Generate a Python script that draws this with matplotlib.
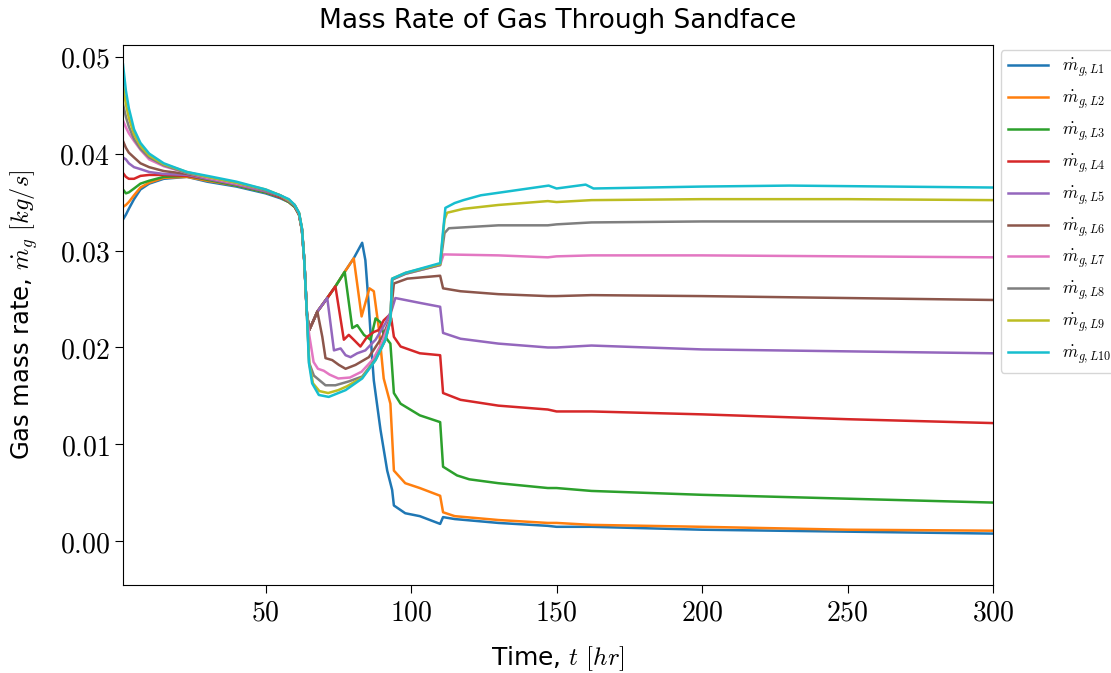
import numpy as np
import matplotlib
matplotlib.use('Agg')
import matplotlib.pyplot as plt
from matplotlib.ticker import FuncFormatter

plt.rcParams['mathtext.fontset'] = 'cm'
plt.rcParams['font.family'] = ['DejaVu Sans']

# time [hr] and gas mass rate [kg/s], one pair per layer
# early part shares one time grid
t_early = [1, 2, 3, 4.8, 7, 10, 15, 23, 30, 40, 50, 55, 58, 60, 61.5, 62.5, 63.3, 64.2]

m_early_L1 = [0.0332, 0.0337, 0.0343, 0.0353, 0.0363, 0.0369, 0.0374, 0.0376, 0.0371, 0.0366, 0.0359, 0.0354, 0.0350,
              0.0345, 0.0337, 0.0321, 0.0290, 0.0235]
m_early_L2 = [0.0345, 0.0347, 0.0350, 0.0357, 0.0365, 0.0370, 0.0375, 0.0376, 0.0372, 0.0367, 0.0360, 0.0355, 0.0350,
              0.0345, 0.0337, 0.0321, 0.0290, 0.0235]
m_early_L3 = [0.0363, 0.0359, 0.0360, 0.0364, 0.0369, 0.0372, 0.0376, 0.0377, 0.0373, 0.0367, 0.0360, 0.0355, 0.0350,
              0.0345, 0.0337, 0.0321, 0.0290, 0.0235]
m_early_L4 = [0.0380, 0.0376, 0.0374, 0.0374, 0.0377, 0.0378, 0.0378, 0.0377, 0.0374, 0.0368, 0.0361, 0.0355, 0.0351,
              0.0346, 0.0337, 0.0321, 0.0290, 0.0235]
m_early_L5 = [0.0396, 0.0394, 0.0390, 0.0386, 0.0384, 0.0381, 0.0379, 0.0378, 0.0374, 0.0368, 0.0361, 0.0356, 0.0351,
              0.0346, 0.0338, 0.0322, 0.0290, 0.0235]
m_early_L6 = [0.0413, 0.0406, 0.0401, 0.0396, 0.0390, 0.0386, 0.0382, 0.0379, 0.0375, 0.0369, 0.0362, 0.0356, 0.0352,
              0.0346, 0.0338, 0.0322, 0.0290, 0.0235]
m_early_L7 = [0.0434, 0.0427, 0.0421, 0.0413, 0.0404, 0.0394, 0.0387, 0.0380, 0.0375, 0.0369, 0.0362, 0.0357, 0.0352,
              0.0347, 0.0338, 0.0322, 0.0290, 0.0235]
m_early_L8 = [0.0451, 0.0438, 0.0428, 0.0415, 0.0405, 0.0396, 0.0388, 0.0380, 0.0376, 0.0370, 0.0362, 0.0357, 0.0352,
              0.0347, 0.0338, 0.0322, 0.0290, 0.0235]
m_early_L9 = [0.0471, 0.0451, 0.0437, 0.0420, 0.0408, 0.0398, 0.0389, 0.0381, 0.0376, 0.0370, 0.0363, 0.0357, 0.0352,
              0.0347, 0.0339, 0.0323, 0.0290, 0.0235]
m_early_L10 = [0.0492, 0.0465, 0.0447, 0.0425, 0.0411, 0.0400, 0.0390, 0.0381, 0.0377, 0.0371, 0.0363, 0.0357, 0.0353,
               0.0347, 0.0339, 0.0323, 0.0290, 0.0235]

# after the shut-in drop (t > 64.2 hr)
t_late_L1 = [65, 66.5, 67.8, 71.2, 74, 77.2, 80.3, 83.2, 84.3, 85.5, 86.6, 87.2, 89.5, 91.8, 93.5, 94.1, 98, 103, 110,
             111, 115, 130, 147, 150, 162, 200, 250, 300]
m_late_L1 = [0.0218, 0.0228, 0.0237, 0.0251, 0.0263, 0.0278, 0.0292, 0.0308, 0.0290, 0.0242, 0.0190, 0.0166, 0.0115,
             0.0073, 0.0053, 0.0037, 0.0029, 0.0026, 0.0018, 0.0025, 0.0023, 0.0019, 0.0016, 0.0015, 0.0015, 0.0012,
             0.0010, 0.0008]

t_late_L2 = [65, 66.5, 67.8, 71.2, 74, 77.2, 80.3, 83.0, 85.7, 87.2, 88.9, 90.6, 92.9, 94.1, 98, 103, 110, 111, 115, 130,
             147, 150, 162, 200, 250, 300]
m_late_L2 = [0.0218, 0.0228, 0.0237, 0.0251, 0.0263, 0.0278, 0.0292, 0.0232, 0.0261, 0.0258, 0.0220, 0.0168, 0.0142,
             0.0073, 0.0060, 0.0055, 0.0047, 0.0030, 0.0026, 0.0022, 0.0019, 0.0019, 0.0017, 0.0015, 0.0012, 0.0011]

t_late_L3 = [65, 66.5, 67.8, 71.2, 74, 77.2, 79.8, 81.5, 83.8, 86.1, 87.8, 89.5, 90.6, 92.9, 94.1, 96.4, 103, 110, 111,
             115.8, 120, 130, 147, 150, 162, 200, 250, 300]
m_late_L3 = [0.0218, 0.0228, 0.0237, 0.0251, 0.0263, 0.0278, 0.0220, 0.0223, 0.0213, 0.0208, 0.0230, 0.0226, 0.0213,
             0.0204, 0.0153, 0.0142, 0.0130, 0.0123, 0.0077, 0.0068, 0.0064, 0.0060, 0.0055, 0.0055, 0.0052, 0.0048,
             0.0044, 0.0040]

t_late_L4 = [65, 66.5, 67.8, 71.2, 74, 76.9, 78.6, 80.3, 82.6, 84.9, 87.2, 88.9, 90.6, 92.4, 93.2, 94.1, 96.4, 103, 110,
             111, 117, 130, 147, 150, 162, 200, 250, 300]
m_late_L4 = [0.0218, 0.0228, 0.0237, 0.0251, 0.0263, 0.0208, 0.0213, 0.0208, 0.0201, 0.0211, 0.0216, 0.0218, 0.0228,
             0.0233, 0.0230, 0.0211, 0.0201, 0.0194, 0.0192, 0.0153, 0.0146, 0.0140, 0.0136, 0.0134, 0.0134, 0.0131,
             0.0126, 0.0122]

t_late_L5 = [65, 66.5, 67.8, 71.2, 73.5, 75.8, 77.5, 79.2, 81.5, 84.3, 87.8, 91.2, 93.5, 94.6, 103, 110, 111, 117, 130,
             147, 150, 162, 200, 250, 300]
m_late_L5 = [0.0218, 0.0228, 0.0237, 0.0251, 0.0197, 0.0199, 0.0192, 0.0190, 0.0194, 0.0197, 0.0208, 0.0225, 0.0240,
             0.0251, 0.0246, 0.0242, 0.0215, 0.0209, 0.0204, 0.0200, 0.0200, 0.0202, 0.0198, 0.0196, 0.0194]

t_late_L6 = [65, 66.5, 67.8, 69.5, 70.6, 72.9, 75.2, 77.5, 80.9, 85.5, 90.1, 92.9, 94.1, 98.7, 110, 111, 117, 130, 147,
             150, 162, 200, 250, 300]
m_late_L6 = [0.0218, 0.0228, 0.0237, 0.0211, 0.0189, 0.0187, 0.0182, 0.0178, 0.0182, 0.0190, 0.0211, 0.0230, 0.0266,
             0.0271, 0.0274, 0.0261, 0.0258, 0.0255, 0.0253, 0.0253, 0.0254, 0.0253, 0.0251, 0.0249]

t_late_L7 = [65, 66.5, 68, 70, 72, 75, 79, 83, 87, 90, 92.9, 93.5, 98.1, 110, 111.2, 130, 147, 150, 162, 200, 250, 300]
m_late_L7 = [0.0213, 0.0185, 0.0178, 0.0176, 0.0172, 0.0168, 0.0169, 0.0175, 0.0188, 0.0205, 0.0229, 0.0270, 0.0276,
             0.0285, 0.0296, 0.0295, 0.0293, 0.0294, 0.0295, 0.0295, 0.0294, 0.0293]

t_late_L8 = [65, 66.6, 70.6, 74, 78.6, 83.2, 87.8, 91.2, 92.9, 93.5, 98.1, 110, 111.5, 113, 130, 147, 150, 162, 200, 250,
             300]
m_late_L8 = [0.0184, 0.0171, 0.0161, 0.0161, 0.0165, 0.0170, 0.0188, 0.0208, 0.0228, 0.0270, 0.0276, 0.0285, 0.0318,
             0.0323, 0.0326, 0.0326, 0.0327, 0.0329, 0.0330, 0.0330, 0.0330]

t_late_L9 = [65, 66.3, 68.5, 71.5, 75, 78, 83.2, 87.8, 91.2, 92.9, 93.5, 98.1, 110, 111.5, 112.4, 118, 130, 147, 150, 162,
             200, 250, 300]
m_late_L9 = [0.0184, 0.0163, 0.0155, 0.0153, 0.0156, 0.0160, 0.0169, 0.0187, 0.0208, 0.0228, 0.0271, 0.0277, 0.0286,
             0.0332, 0.0339, 0.0343, 0.0347, 0.0351, 0.0350, 0.0352, 0.0353, 0.0353, 0.0352]

t_late_L10 = [64.9, 66, 68.3, 71.7, 77.5, 83.2, 87.8, 91.2, 92.9, 93.5, 98.1, 110, 111, 111.8, 115, 118, 124, 131, 147.3,
              150, 160, 162.7, 200, 230, 300]
m_late_L10 = [0.0184, 0.0163, 0.0151, 0.0149, 0.0156, 0.0168, 0.0187, 0.0208, 0.0228, 0.0271, 0.0277, 0.0287, 0.0320,
              0.0344, 0.0349, 0.0352, 0.0357, 0.0360, 0.0367, 0.0364, 0.0368, 0.0364, 0.0366, 0.0367, 0.0365]

early = [m_early_L1, m_early_L2, m_early_L3, m_early_L4, m_early_L5,
         m_early_L6, m_early_L7, m_early_L8, m_early_L9, m_early_L10]
late_t = [t_late_L1, t_late_L2, t_late_L3, t_late_L4, t_late_L5,
          t_late_L6, t_late_L7, t_late_L8, t_late_L9, t_late_L10]
late_m = [m_late_L1, m_late_L2, m_late_L3, m_late_L4, m_late_L5,
          m_late_L6, m_late_L7, m_late_L8, m_late_L9, m_late_L10]
labels = [r'$\dot{m}_{g,L%d}$' % (i + 1) for i in range(10)]

fig = plt.figure(figsize=(11.11, 6.73), dpi=100)
ax = fig.add_axes([0.1107, 0.1308, 0.7831, 0.8023])

for me, tl, ml, lab in zip(early, late_t, late_m, labels):
    ax.plot(t_early + tl, me + ml, lw=1.8, label=lab)

ax.set_xlim(1, 300)
ax.set_ylim(-0.0045, 0.0512)
ax.set_xticks([50, 100, 150, 200, 250, 300])
ax.set_yticks([0.0, 0.01, 0.02, 0.03, 0.04, 0.05])
ax.xaxis.set_major_formatter(FuncFormatter(lambda x, p: r'$%d$' % x))
ax.yaxis.set_major_formatter(FuncFormatter(lambda y, p: r'$%.2f$' % y))
ax.tick_params(labelsize=20, length=6)

ax.set_title('Mass Rate of Gas Through Sandface', fontsize=19, pad=12)
ax.set_xlabel(r'Time, $t$ $[hr]$', fontsize=18, labelpad=13)
ax.set_ylabel(r'Gas mass rate, $\dot{m}_g$ $[kg/s]$', fontsize=17.5, labelpad=14)

ax.legend(loc='upper left', bbox_to_anchor=(1.003, 1.0), fontsize=12.5, handlelength=2.3,
          borderaxespad=0.3, labelspacing=0.55)

fig.savefig('out.png', dpi=100)
